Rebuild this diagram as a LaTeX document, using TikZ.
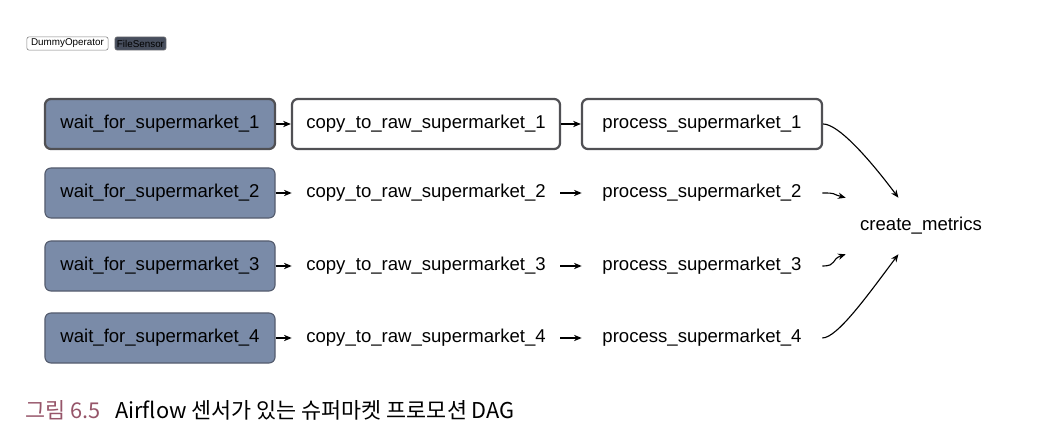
\documentclass[tikz,border=0pt]{standalone}
\usepackage{fontspec}
\setmainfont{Liberation Sans}
\newfontfamily\krfont{Noto Sans CJK KR}
\usetikzlibrary{arrows.meta, calc}

\definecolor{sensorblue}{RGB}{122,139,168}
\definecolor{sensoredge}{RGB}{84,92,110}
\definecolor{taskedge}{RGB}{80,80,84}
\definecolor{captionred}{RGB}{150,85,105}

\begin{document}
\begin{tikzpicture}[x=0.025cm, y=-0.025cm,
        task/.style={rectangle, rounded corners=0.15cm, minimum height=1.25cm, inner xsep=0.35cm, font=\fontsize{13.2}{16}\selectfont},
        sensor/.style={task, fill=sensorblue, draw=sensoredge, line width=0.8pt, minimum width=5.75cm},
        copybox/.style={task, minimum width=6.7cm},
        procbox/.style={task, minimum width=6cm},
        shown/.style={draw=taskedge, line width=1.6pt},
        plain/.style={},
        legend/.style={rectangle, rounded corners=1.5pt, draw=gray, inner sep=0pt, minimum height=0.33cm, font=\fontsize{7}{8}\selectfont},
        link/.style={-{Stealth[length=5.5pt, width=4.5pt]}, line width=0.8pt}]
    \useasboundingbox (0,0) rectangle (1058,438);

    % legend
    \node[legend, fill=white, minimum width=2.03cm] (LDummy) at (67.5,43.5) {DummyOperator};
    \node[legend, fill=sensoredge!85!black, minimum width=1.28cm] (LSensor) at (140.5,43.5) {FileSensor};

    % one row per supermarket
    \foreach \i/\y/\look in {1/124/shown, 2/193/plain, 3/266/plain, 4/338/plain} {
        \node[sensor, \look] (W\i) at (160,\y) {wait\_for\_supermarket\_\i};
        \node[copybox, \look] (C\i) at (426,\y) {copy\_to\_raw\_supermarket\_\i};
        \node[procbox, \look] (P\i) at (702,\y) {process\_supermarket\_\i};
        \draw[link] (W\i) -- (C\i);
        \draw[link] (C\i) -- (P\i);
    }

    \node[task, minimum width=3.75cm, minimum height=1.4cm] (CM) at (921,226) {create\_metrics};
    \coordinate (CMtop) at ($(CM.north west)!0.35!(CM.north east)$);
    \coordinate (CMbot) at ($(CM.south west)!0.35!(CM.south east)$);

    \draw[link] (P1.east) .. controls +(15,0) and +(-30,-40) .. (CMtop);
    \draw[link] (P2.east) .. controls +(15,0) and +(-15,-4) .. (CM.north west);
    \draw[link] (P3.east) .. controls +(15,0) and +(-15,5) .. (CM.south west);
    \draw[link] (P4.east) .. controls +(15,0) and +(-30,40) .. (CMbot);

    % caption
    \node[anchor=west, inner sep=0pt, font=\krfont\fontsize{15.5}{18}\selectfont, text=captionred] (FigNum) at (25,410) {그림 6.5};
    \node[anchor=west, inner sep=0pt, font=\krfont\fontsize{15.5}{18}\selectfont] (FigText) at (115,410) {Airflow 센서가 있는 슈퍼마켓 프로모션 DAG};
\end{tikzpicture}
\end{document}
